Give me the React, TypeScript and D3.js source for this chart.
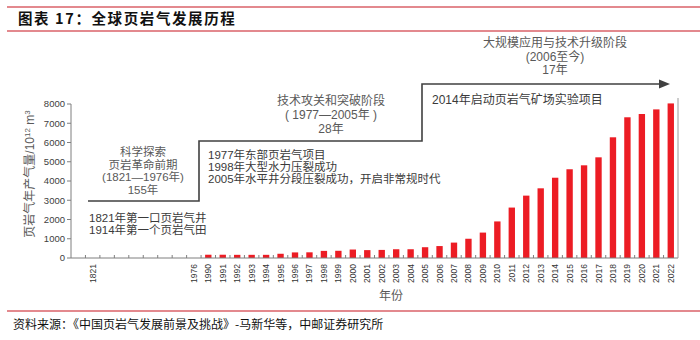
import React from "react";
import * as d3 from "d3";

const title = "图表 17：全球页岩气发展历程";
const source = "资料来源：《中国页岩气发展前景及挑战》-马新华等，中邮证券研究所";

// x-axis categories (blank slots kept as empty labels)
const axisLabels = ["", "1821", "", "", "", "", "", "", "1976"];
const barYears = [
  "1990", "1991", "1992", "1993", "1994", "1995", "1996", "1997", "1998", "1999",
  "2000", "2001", "2002", "2003", "2004", "2005", "2006", "2007", "2008", "2009",
  "2010", "2011", "2012", "2013", "2014", "2015", "2016", "2017", "2018", "2019",
  "2020", "2021", "2022",
];
const barValues = [
  170, 170, 165, 165, 165, 220, 290, 295, 370, 375,
  440, 410, 420, 455, 455, 560, 620, 800, 1000, 1320,
  1900, 2620, 3240, 3620, 4170, 4610, 4815, 5230, 6270, 7310,
  7480, 7720, 8030,
];
const yTicks = [0, 1000, 2000, 3000, 4000, 5000, 6000, 7000, 8000];

const stage1Title = ["科学探索", "页岩革命前期", "(1821—1976年)", "155年"];
const stage1Notes = ["1821年第一口页岩气井", "1914年第一个页岩气田"];
const stage2Title = ["技术攻关和突破阶段", "( 1977—2005年 )", "28年"];
const stage2Notes = ["1977年东部页岩气项目", "1998年大型水力压裂成功", "2005年水平井分段压裂成功，开启非常规时代"];
const stage3Title = ["大规模应用与技术升级阶段", "(2006至今)", "17年"];
const stage3Note = "2014年启动页岩气矿场实验项目";

const FONT = "'Liberation Sans', 'Noto Sans CJK SC', Arial, sans-serif";
const CJK = "'Noto Sans CJK SC', sans-serif";

export default function App() {
  const W = 700, H = 340;
  const allLabels = [...axisLabels, ...barYears];
  const keys = allLabels.map((_, i) => String(i));
  const x = d3.scaleBand<string>().domain(keys).range([71, 678]).paddingInner(0.56).paddingOuter(0.28);
  const xb = d3.scaleBand<string>().domain(keys).range([71, 678]);
  const y = d3.scaleLinear().domain([0, 8000]).range([258, 104]);
  const offset = axisLabels.length;

  const step = d3.line<[number, number]>();
  const stairs: [number, number][] = [
    [88, 201], [199, 201], [199, 141], [422, 141], [422, 84], [662, 84],
  ];

  const textGrey = "#595959";
  const textDark = "#3a3a3a";

  return (
    <svg width={W} height={H} style={{ position: "absolute", left: 0, top: 0, background: "#fff" }} fontFamily={FONT}>
      {/* header */}
      <line x1={7} x2={700} y1={7} y2={7} stroke="#c8141e" strokeWidth={1.2} />
      <text x={18} y={24} fontSize={14.5} fontWeight="bold" fill="#111" letterSpacing={1.6} fontFamily={CJK}>{title}</text>
      <line x1={7} x2={700} y1={31} y2={31} stroke="#c8141e" strokeWidth={1.2} />

      {/* bars */}
      {barValues.map((v, i) => {
        const k = String(offset + i);
        return (
          <rect key={k} x={x(k)} y={y(v)} width={x.bandwidth()} height={y(0) - y(v)} fill="#ec1c24" />
        );
      })}

      {/* y axis */}
      <line x1={71} x2={71} y1={104} y2={258} stroke="#7f7f7f" strokeWidth={1} />
      {yTicks.map((t) => (
        <g key={t}>
          <line x1={67} x2={71} y1={y(t)} y2={y(t)} stroke="#7f7f7f" />
          <text x={65} y={y(t)} dy="0.35em" textAnchor="end" fontSize={9.5} fill="#404040">{t}</text>
        </g>
      ))}
      <text transform="translate(34,174) rotate(-90)" textAnchor="middle" fontSize={12} fill={textGrey}>
        页岩气年产气量/10<tspan dy={-4} fontSize={8}>12</tspan><tspan dy={4}> m</tspan><tspan dy={-4} fontSize={8}>3</tspan>
      </text>

      {/* x axis */}
      <line x1={71} x2={678} y1={258} y2={258} stroke="#7f7f7f" strokeWidth={1} />
      <line x1={678} x2={678} y1={98} y2={258} stroke="#9a9a9a" strokeWidth={1} />
      {keys.map((k, i) => (
        <g key={"t" + k}>
          {i > 0 && <line x1={xb(k)} x2={xb(k)} y1={258} y2={255} stroke="#7f7f7f" />}
          {allLabels[i] && (
            <text transform={`translate(${(xb(k) as number) + xb.bandwidth() / 2 + 3},264) rotate(-90)`} textAnchor="end" fontSize={8.5} fill="#333">{allLabels[i]}</text>
          )}
        </g>
      ))}
      <text x={391} y={300} textAnchor="middle" fontSize={12} fill={textGrey}>年份</text>

      {/* staircase arrow */}
      <path d={step(stairs) as string} fill="none" stroke="#404040" strokeWidth={1.6} />
      <path d="M 659 79.5 L 670 84 L 659 88.5 Z" fill="#404040" />

      {/* stage texts */}
      {stage1Title.map((s, i) => (
        <text key={"s1" + i} x={143} y={152 + i * 12.5} dy="0.35em" textAnchor="middle" fontSize={11.5} fill={textGrey}>{s}</text>
      ))}
      {stage1Notes.map((s, i) => (
        <text key={"n1" + i} x={89} y={218 + i * 12.3} dy="0.35em" fontSize={11.5} fill={textDark}>{s}</text>
      ))}
      {stage2Title.map((s, i) => (
        <text key={"s2" + i} x={331} y={101 + i * 13.7} dy="0.35em" textAnchor="middle" fontSize={12} fill={textGrey}>{s}</text>
      ))}
      {stage2Notes.map((s, i) => (
        <text key={"n2" + i} x={208} y={155 + i * 12.2} dy="0.35em" fontSize={11.5} fill={textDark}>{s}</text>
      ))}
      {stage3Title.map((s, i) => (
        <text key={"s3" + i} x={555} y={43 + i * 13.6} dy="0.35em" textAnchor="middle" fontSize={12} fill={textGrey}>{s}</text>
      ))}
      <text x={432} y={100} dy="0.35em" fontSize={12} fill={textDark}>{stage3Note}</text>

      {/* footer */}
      <line x1={7} x2={700} y1={311} y2={311} stroke="#c8141e" strokeWidth={1.2} />
      <text x={13} y={325} dy="0.35em" fontSize={12} fill="#111" fontFamily={CJK}>{source}</text>
    </svg>
  );
}
